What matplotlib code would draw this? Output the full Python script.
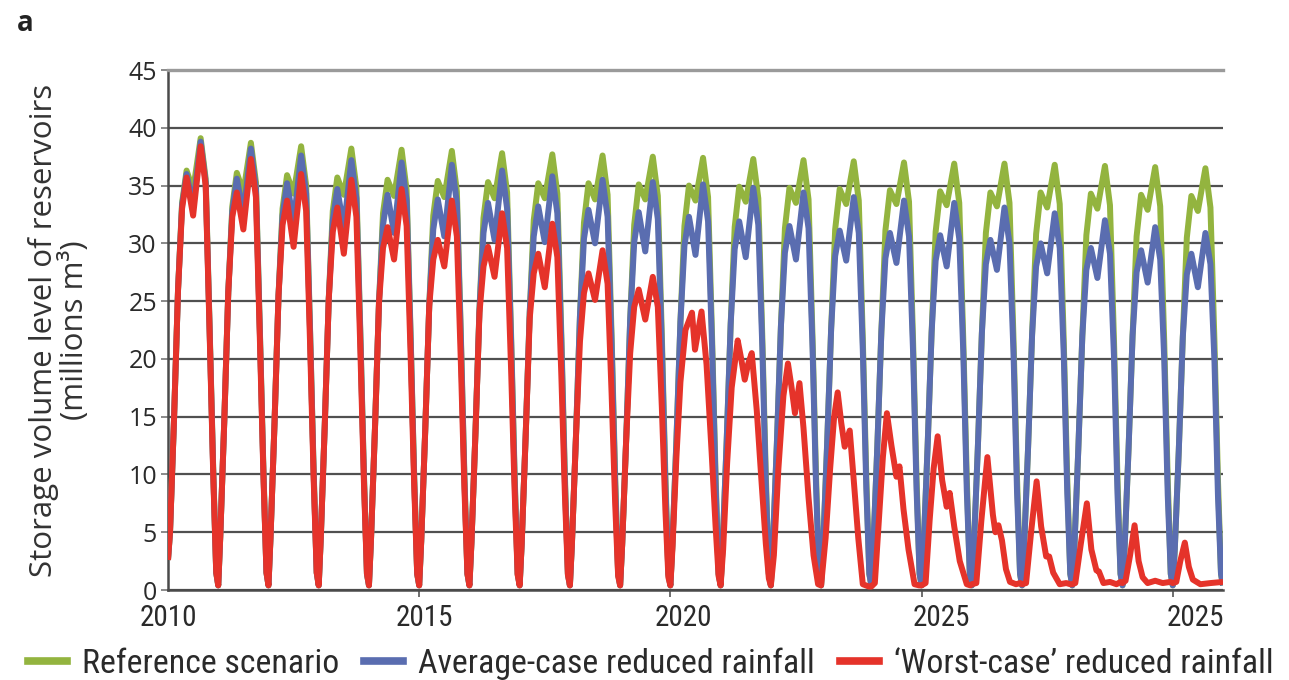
import matplotlib
matplotlib.use("Agg")
import matplotlib.pyplot as plt
from matplotlib import font_manager
from matplotlib.lines import Line2D

# ---- data ----
years = list(range(2010, 2031))

# time of each point inside a yearly fill/drain cycle (fraction of the year)
frac_arch = [0.00, 0.04, 0.12, 0.20, 0.28, 0.37, 0.50, 0.65, 0.75, 0.83, 0.90, 0.96]

# min, rise..., shoulder, dip, peak, fall...   (millions m3)
reference = [
    [2.6, 5.0, 14.8, 26.0, 33.5, 36.3, 34.6, 39.1, 35.6, 22.5, 10.5, 1.5],
    [0.4, 4.6, 14.6, 25.8, 33.2, 36.1, 34.4, 38.7, 35.3, 22.3, 10.3, 1.5],
    [0.4, 4.5, 14.4, 25.5, 33.0, 35.9, 34.3, 38.4, 35.0, 22.2, 10.2, 1.5],
    [0.4, 4.4, 14.2, 25.2, 32.8, 35.7, 34.2, 38.2, 34.8, 22.1, 10.1, 1.4],
    [0.4, 4.3, 14.0, 24.9, 32.6, 35.5, 34.1, 38.1, 34.6, 22.0, 10.0, 1.4],
    [0.4, 4.2, 13.8, 24.6, 32.4, 35.4, 34.0, 38.0, 34.5, 22.0, 10.0, 1.4],
    [0.4, 4.1, 13.6, 24.3, 32.2, 35.3, 33.9, 37.8, 34.4, 22.0, 10.0, 1.4],
    [0.4, 4.0, 13.4, 24.0, 32.0, 35.2, 33.9, 37.7, 34.3, 22.0, 10.0, 1.4],
    [0.4, 4.0, 13.2, 23.7, 31.8, 35.2, 33.8, 37.6, 34.2, 22.0, 10.0, 1.4],
    [0.4, 3.9, 13.0, 23.4, 31.6, 35.1, 33.8, 37.5, 34.1, 22.0, 10.0, 1.4],
    [0.4, 3.9, 12.9, 23.2, 31.5, 35.0, 33.7, 37.4, 34.0, 21.9, 9.9, 1.4],
    [0.4, 3.8, 12.8, 23.0, 31.4, 34.9, 33.6, 37.3, 33.9, 21.9, 9.9, 1.4],
    [0.4, 3.8, 12.7, 22.8, 31.3, 34.8, 33.5, 37.2, 33.8, 21.8, 9.8, 1.4],
    [0.4, 3.7, 12.6, 22.6, 31.2, 34.7, 33.4, 37.1, 33.7, 21.8, 9.8, 1.4],
    [0.4, 3.7, 12.5, 22.4, 31.1, 34.6, 33.4, 37.0, 33.6, 21.7, 9.7, 1.4],
    [0.4, 3.6, 12.4, 22.3, 31.0, 34.5, 33.3, 36.9, 33.5, 21.7, 9.7, 1.4],
    [0.4, 3.6, 12.3, 22.2, 30.9, 34.4, 33.2, 36.9, 33.5, 21.7, 9.7, 1.4],
    [0.4, 3.6, 12.3, 22.1, 30.8, 34.4, 33.1, 36.8, 33.4, 21.6, 9.6, 1.4],
    [0.4, 3.5, 12.2, 22.0, 30.7, 34.3, 33.0, 36.7, 33.3, 21.6, 9.6, 1.4],
    [0.4, 3.5, 12.2, 22.0, 30.6, 34.2, 32.9, 36.6, 33.2, 21.5, 9.5, 1.4],
    [0.4, 3.5, 12.1, 21.9, 30.5, 34.1, 32.8, 36.5, 33.1, 21.5, 9.5, 1.4],
]

average_case = [
    [2.6, 5.0, 14.8, 26.0, 33.3, 36.0, 33.2, 38.8, 35.3, 22.3, 10.3, 1.5],
    [0.4, 4.6, 14.6, 25.8, 32.8, 35.6, 32.5, 38.2, 34.8, 22.1, 10.1, 1.5],
    [0.4, 4.5, 14.4, 25.5, 32.4, 35.2, 31.8, 37.6, 34.3, 22.0, 10.0, 1.5],
    [0.4, 4.4, 14.2, 25.2, 32.0, 34.7, 31.3, 37.2, 33.9, 21.8, 9.8, 1.4],
    [0.4, 4.3, 14.0, 24.9, 31.6, 34.2, 30.9, 37.0, 33.7, 21.7, 9.7, 1.4],
    [0.4, 4.2, 13.8, 24.6, 31.2, 33.8, 30.6, 36.8, 33.5, 21.6, 9.6, 1.4],
    [0.4, 4.1, 13.6, 24.3, 30.9, 33.5, 30.3, 36.3, 33.0, 21.5, 9.5, 1.4],
    [0.4, 4.0, 13.4, 24.0, 30.6, 33.2, 30.1, 35.8, 32.6, 21.4, 9.4, 1.4],
    [0.4, 4.0, 13.2, 23.7, 30.4, 32.9, 30.0, 35.5, 32.3, 21.3, 9.3, 1.4],
    [0.4, 3.9, 13.0, 23.4, 30.1, 32.7, 29.3, 35.3, 32.1, 21.2, 9.2, 1.4],
    [0.4, 3.9, 12.9, 23.2, 29.8, 32.3, 29.0, 35.1, 31.9, 21.1, 9.1, 1.4],
    [0.4, 3.8, 12.8, 23.0, 29.5, 31.9, 28.8, 34.8, 31.6, 21.0, 9.0, 1.4],
    [0.4, 3.8, 12.7, 22.8, 29.2, 31.5, 28.6, 34.4, 31.3, 20.9, 8.9, 1.4],
    [0.4, 3.7, 12.6, 22.6, 28.9, 31.1, 28.5, 34.0, 30.9, 20.8, 8.8, 1.4],
    [0.4, 3.7, 12.5, 22.4, 28.7, 30.9, 28.3, 33.7, 30.6, 20.7, 8.7, 1.4],
    [0.4, 3.6, 12.4, 22.3, 28.5, 30.7, 28.0, 33.5, 30.4, 20.6, 8.6, 1.4],
    [0.4, 3.6, 12.3, 22.2, 28.2, 30.3, 27.7, 33.1, 30.0, 20.5, 8.5, 1.4],
    [0.4, 3.6, 12.3, 22.1, 28.0, 30.0, 27.4, 32.6, 29.6, 20.4, 8.4, 1.4],
    [0.4, 3.5, 12.2, 22.0, 27.7, 29.6, 27.0, 32.0, 29.1, 20.2, 8.3, 1.4],
    [0.4, 3.5, 12.2, 22.0, 27.5, 29.4, 26.6, 31.4, 28.6, 20.0, 8.2, 1.4],
    [0.4, 3.5, 12.1, 21.9, 27.3, 29.1, 26.2, 30.9, 28.2, 19.8, 8.1, 1.4],
]

# worst case, 2010-2019 still follow the full cycle
worst_case_early = [
    [2.6, 5.0, 14.8, 26.0, 33.0, 35.7, 32.4, 38.4, 35.0, 22.0, 10.0, 1.5],
    [0.4, 4.6, 14.6, 25.8, 32.3, 34.4, 31.2, 37.3, 34.0, 21.5, 9.8, 1.5],
    [0.4, 4.5, 14.4, 25.5, 31.6, 33.7, 29.7, 36.0, 32.8, 21.0, 9.5, 1.5],
    [0.4, 4.4, 14.2, 25.2, 31.0, 33.1, 29.1, 35.5, 32.3, 20.6, 9.3, 1.4],
    [0.4, 4.3, 14.0, 24.9, 29.6, 31.4, 28.6, 34.7, 31.5, 20.2, 9.1, 1.4],
    [0.4, 4.2, 13.8, 24.6, 28.6, 30.3, 28.0, 33.7, 30.6, 19.6, 8.8, 1.4],
    [0.4, 4.1, 13.6, 24.0, 28.0, 29.7, 27.1, 32.6, 29.6, 19.0, 8.5, 1.3],
    [0.4, 4.0, 13.4, 23.5, 27.4, 29.1, 26.2, 31.7, 28.8, 18.5, 8.3, 1.3],
    [0.4, 4.0, 13.2, 21.5, 25.7, 27.4, 25.1, 29.4, 26.5, 17.0, 7.6, 1.2],
    [0.4, 3.9, 13.0, 20.5, 24.5, 26.0, 23.4, 27.1, 24.5, 15.8, 7.0, 1.1],
]

# worst case, 2020-2030: (fraction of year, value) per cycle
worst_case_late = [
    [(0.00, 0.4), (0.04, 3.5), (0.12, 11.5), (0.20, 18.0), (0.30, 22.5), (0.43, 24.0), (0.49, 20.8),
     (0.55, 22.3), (0.62, 24.1), (0.72, 19.5), (0.82, 12.0), (0.90, 5.5), (0.96, 1.2)],
    [(0.00, 0.4), (0.05, 3.5), (0.13, 11.0), (0.22, 17.5), (0.34, 21.6), (0.41, 20.0), (0.48, 18.2),
     (0.55, 19.6), (0.62, 20.5), (0.72, 15.5), (0.82, 9.0), (0.90, 4.0), (0.96, 1.0)],
    [(0.00, 0.4), (0.06, 3.0), (0.15, 10.5), (0.25, 16.8), (0.34, 19.6), (0.41, 17.6), (0.48, 15.3),
     (0.57, 17.9), (0.65, 14.0), (0.75, 8.0), (0.85, 3.0), (0.94, 0.5)],
    [(0.00, 0.4), (0.09, 4.5), (0.18, 10.5), (0.26, 15.0), (0.33, 17.1), (0.40, 14.5), (0.47, 12.4),
     (0.57, 13.8), (0.65, 9.5), (0.74, 4.5), (0.83, 0.5), (0.95, 0.3)],
    [(0.00, 0.3), (0.07, 0.6), (0.15, 6.0), (0.23, 11.5), (0.31, 15.3), (0.40, 12.5), (0.50, 9.8),
     (0.56, 10.7), (0.64, 7.0), (0.74, 3.5), (0.86, 0.5), (0.95, 0.4)],
    [(0.00, 0.4), (0.08, 0.6), (0.16, 6.0), (0.24, 10.5), (0.32, 13.3), (0.41, 9.5), (0.50, 7.2),
     (0.56, 8.4), (0.65, 5.5), (0.76, 2.5), (0.90, 0.5), (0.97, 0.4)],
    [(0.00, 0.5), (0.09, 0.6), (0.19, 6.0), (0.31, 11.5), (0.42, 6.5), (0.47, 5.0), (0.53, 5.6),
     (0.60, 4.3), (0.68, 1.8), (0.76, 0.7), (0.88, 0.5), (0.96, 0.6)],
    [(0.00, 0.5), (0.08, 0.6), (0.18, 5.0), (0.29, 9.4), (0.38, 5.5), (0.48, 2.9), (0.54, 2.9),
     (0.62, 1.5), (0.75, 0.5), (0.88, 0.6), (0.96, 0.5)],
    [(0.00, 0.5), (0.06, 0.6), (0.17, 4.0), (0.29, 7.5), (0.38, 3.5), (0.48, 1.7), (0.53, 1.6),
     (0.62, 0.6), (0.75, 0.7), (0.88, 0.5), (0.96, 0.7)],
    [(0.00, 0.6), (0.06, 0.8), (0.15, 3.0), (0.24, 5.6), (0.32, 2.5), (0.40, 1.1), (0.50, 0.6),
     (0.65, 0.8), (0.80, 0.6), (0.95, 0.7)],
    [(0.00, 0.6), (0.07, 0.7), (0.15, 2.5), (0.24, 4.1), (0.32, 2.0), (0.40, 0.9), (0.55, 0.5),
     (0.75, 0.6), (1.00, 0.7)],
]
end_value = 0.4

labels = ["Reference scenario", "Average-case reduced rainfall", "\u2018Worst-case\u2019 reduced rainfall"]
colors = ["#93b43f", "#5a6db0", "#e5332a"]
xtick_labels = ["2010", "2015", "2020", "2025", "2025"]


def cycles_to_xy(rows, first_year):
    t, v = [], []
    for k, row in enumerate(rows):
        for f, val in zip(frac_arch, row):
            t.append(first_year + k + f)
            v.append(val)
    return t, v


ref_t, ref_v = cycles_to_xy(reference, years[0])
ref_t.append(years[-1] + 1); ref_v.append(end_value)
avg_t, avg_v = cycles_to_xy(average_case, years[0])
avg_t.append(years[-1] + 1); avg_v.append(end_value)
wst_t, wst_v = cycles_to_xy(worst_case_early, years[0])
for k, cyc in enumerate(worst_case_late):
    for f, val in cyc:
        wst_t.append(2020 + k + f)
        wst_v.append(val)

# ---- fonts: a narrow face for the x labels and legend if one is installed ----
names = {f.name for f in font_manager.fontManager.ttflist}
narrow = None
for cand in ["Roboto Condensed", "Liberation Sans Narrow", "Open Sans Condensed",
             "Noto Sans Condensed", "DejaVu Sans Condensed"]:
    if cand in names:
        narrow = cand
        break
if narrow is None:
    narrow = "Lato"
    xsize, legsize = 17, 20
else:
    xsize, legsize = 21, 24.3
plain = "Open Sans"

fig = plt.figure(figsize=(12.89, 6.8), dpi=100)
ax = fig.add_axes([168 / 1289, 90 / 680, 1055 / 1289, 520 / 680])

for t, v, c in zip([ref_t, avg_t, wst_t], [ref_v, avg_v, wst_v], colors):
    ax.plot(t, v, color=c, lw=4.3, solid_joinstyle="round", solid_capstyle="butt", zorder=3)

ax.set_xlim(2010, 2031)
ax.set_ylim(0, 45)
ax.set_yticks(range(0, 46, 5))
ax.yaxis.grid(True, color="#505050", lw=1.6, zorder=1)
ax.set_axisbelow(True)

# labels sit a little right of the 5-year marks in the original
ax.set_xticks([2010.0, 2015.1, 2020.25, 2025.4, 2030.45])
ax.set_xticklabels(xtick_labels, fontfamily=narrow, fontsize=xsize, color="#2a2a2a")
ax.set_xticks([2015, 2020, 2025, 2030], minor=True)
ax.tick_params(axis="x", which="major", length=0, pad=10)
ax.tick_params(axis="x", which="minor", length=5, width=1.2, color="#555555", direction="out")
ax.tick_params(axis="y", length=5, width=1.2, color="#777777", pad=3, labelsize=18, labelcolor="#2a2a2a")
for lab in ax.get_yticklabels():
    lab.set_fontfamily(plain)

for side in ["left", "bottom"]:
    ax.spines[side].set_color("#4a4a4a")
    ax.spines[side].set_linewidth(1.8)
ax.spines["top"].set_color("#9a9a9a")
ax.spines["top"].set_linewidth(2.4)
ax.spines["right"].set_visible(False)

ax.set_ylabel("Storage volume level of reservoirs\n(millions m\u00b3)", fontfamily=plain,
              fontsize=22.5, color="#333333", va="center", linespacing=1.0)
ax.yaxis.set_label_coords(-0.103, 0.5)

fig.text(0.013, 0.955, "a", fontfamily=plain, fontweight="bold", fontsize=20, color="#222222")

handles = [Line2D([], [], color=c, lw=5.5) for c in colors]
fig.legend(handles, labels, loc="lower center", bbox_to_anchor=(0.505, -0.045), ncol=3,
           frameon=False, prop={"family": narrow, "size": legsize},
           handlelength=1.15, handletextpad=0.45, columnspacing=0.75, labelcolor="#2a2a2a")

fig.savefig("out.png", dpi=100)
